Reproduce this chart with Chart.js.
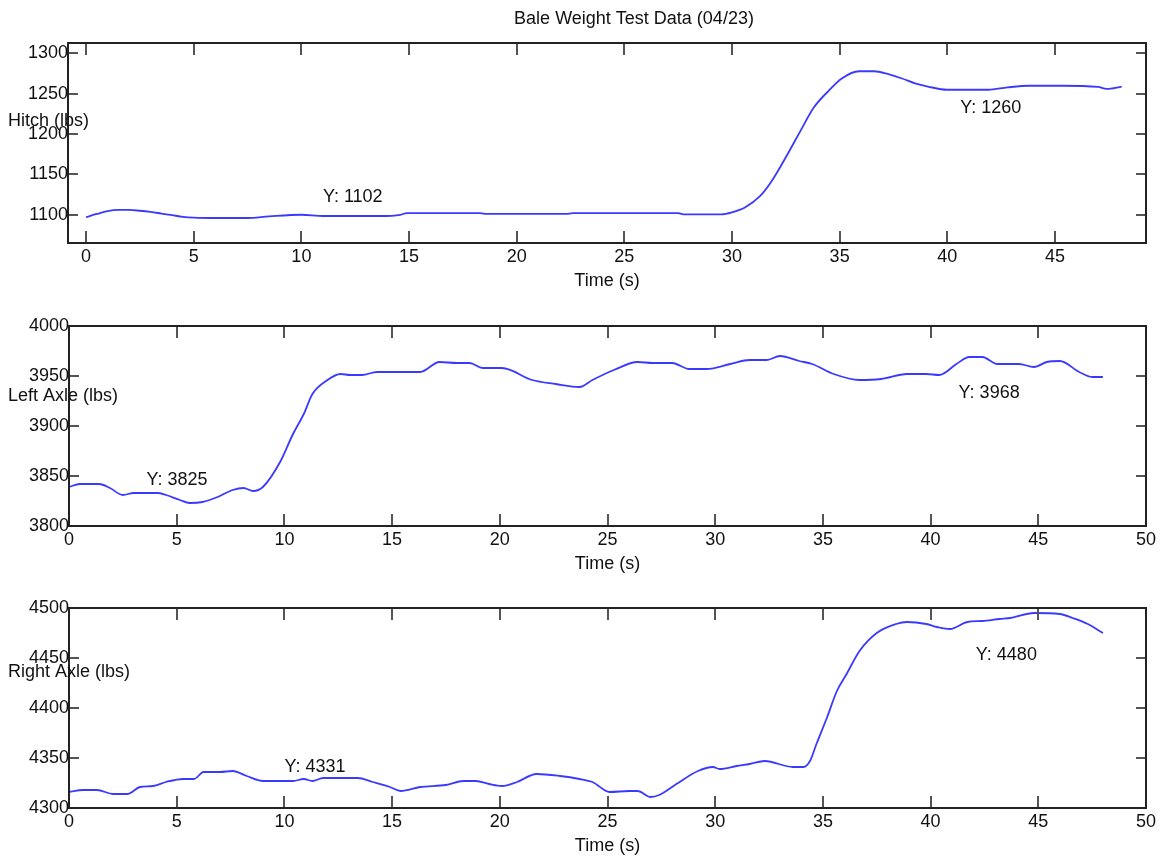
<!DOCTYPE html>
<html>
<head>
<meta charset="utf-8">
<title>Bale Weight Test Data (04/23)</title>
<script src="https://cdn.jsdelivr.net/npm/chart.js@4.4.1/dist/chart.umd.min.js"></script>
<style>
  html, body { margin: 0; padding: 0; background: #fff; overflow: hidden; }
  #page { position: relative; width: 1161px; height: 857px; }
  canvas { position: absolute; left: 0; }
</style>
</head>
<body>
<div id="page">
  <canvas id="hitch" width="1161" height="300" style="top:0px"></canvas>
  <canvas id="leftAxle" width="1161" height="300" style="top:290px"></canvas>
  <canvas id="rightAxle" width="1161" height="285" style="top:575px"></canvas>
</div>
<script>
// JavaScript Document
const chartTitle = "Bale Weight Test Data (04/23)";
const xTitle = "Time (s)";

// Hitch load cell
const hitchTime = [0, 0.5, 1.0, 1.5, 2.0, 2.5, 3.0, 3.5, 4.0, 4.5, 5.0, 6.0, 7.0, 7.5, 8.5,
  10.0, 11.0, 13.7, 14.6, 14.9, 18.3, 18.6, 22.3, 22.6, 27.5, 27.8, 29.5, 30.0, 30.6, 31.3,
  31.8, 32.6, 33.2, 33.8, 34.5, 35.1, 35.9, 36.6, 37.3, 37.9, 38.5, 39.1, 40.0, 41.9, 42.8,
  43.8, 45.3, 47.0, 47.4, 48.1];
const hitchLbs = [1097, 1101, 1104.5, 1106, 1106, 1105, 1103.5, 1101.5, 1099.5, 1097.5, 1096.5, 1096, 1096, 1096, 1098,
  1100, 1098.5, 1098.5, 1100, 1102, 1102, 1101, 1101, 1102, 1102, 1100.5, 1100.5, 1103, 1109, 1123,
  1140, 1176, 1205, 1233, 1254, 1269, 1278, 1278, 1274, 1269, 1263, 1259, 1255, 1255, 1258,
  1260, 1260, 1258.5, 1256, 1259];

// Left axle load cell
const leftTime = [0, 0.5, 1.4, 1.9, 2.5, 3.0, 4.1, 4.5, 5.15, 5.6, 6.2, 6.9, 7.6, 8.1, 8.55,
  9.0, 9.8, 10.4, 10.9, 11.3, 12.0, 12.6, 13.05, 13.6, 14.3, 16.3, 17.2, 18.0, 18.6, 19.2,
  20.1, 21.5, 22.6, 23.7, 24.3, 25.3, 26.4, 27.1, 28.0, 28.8, 29.6, 30.7, 31.6, 32.4, 33.0,
  33.9, 34.5, 35.5, 36.7, 37.7, 38.9, 39.8, 40.4, 41.2, 41.8, 42.4, 43.1, 44.1, 44.8, 45.4,
  46.0, 46.9, 47.5, 48.0];
const leftLbs = [3839, 3842, 3842, 3838, 3831, 3833, 3833, 3831, 3826, 3823, 3824, 3829, 3836, 3838, 3835,
  3839, 3864, 3892, 3912, 3932, 3946, 3952, 3951, 3951, 3954, 3954, 3964, 3963, 3963, 3958,
  3958, 3946, 3942, 3939, 3946, 3956, 3964, 3963, 3963, 3957, 3957, 3962, 3966, 3966, 3970,
  3965, 3962, 3952, 3946, 3947, 3952, 3952, 3951, 3962, 3969, 3969, 3962, 3962, 3959, 3964,
  3965, 3954, 3949, 3949];

// Right axle load cell
const rightTime = [0, 0.65, 1.3, 2.05, 2.7, 3.3, 3.9, 4.5, 5.3, 5.8, 6.25, 7.0, 7.6, 8.25, 9.0,
  10.4, 10.9, 11.3, 11.8, 13.4, 14.1, 14.9, 15.4, 16.3, 17.5, 18.3, 18.9, 19.5, 20.1, 20.8,
  21.7, 22.8, 23.7, 24.3, 25.1, 26.0, 26.4, 27.0, 27.4, 28.2, 29.2, 29.9, 30.2, 31.0, 31.6,
  32.3, 33.6, 34.1, 34.4, 34.7, 35.2, 35.65, 36.1, 36.7, 37.5, 38.4, 38.9, 39.8, 40.3, 40.9,
  41.7, 42.4, 43.2, 43.7, 44.8, 46.0, 46.6, 47.3, 48.0];
const rightLbs = [4316, 4318, 4318, 4314, 4314, 4321, 4322, 4326, 4329, 4329, 4336, 4336, 4337, 4332, 4327,
  4327, 4329, 4327, 4330, 4330, 4326, 4321, 4317, 4321, 4323, 4327, 4327, 4324, 4322, 4326,
  4334, 4332, 4329, 4326, 4316, 4317, 4317, 4311, 4313, 4324, 4337, 4341, 4339, 4342, 4344,
  4347, 4341, 4341, 4347, 4364, 4391, 4417, 4434, 4457, 4475, 4484, 4486, 4484, 4481, 4479,
  4486, 4487, 4489, 4490, 4495, 4494, 4490, 4484, 4475];

// tick labels
const hitchXTicks = [0, 5, 10, 15, 20, 25, 30, 35, 40, 45];
const axleXTicks = [0, 5, 10, 15, 20, 25, 30, 35, 40, 45, 50];
const hitchYTicks = [1100, 1150, 1200, 1250, 1300];
const leftYTicks = [3800, 3850, 3900, 3950, 4000];
const rightYTicks = [4300, 4350, 4400, 4450, 4500];

// data tips (text, time, lbs)
const hitchTips = [["Y: 1102", 11.0, 1121.7], ["Y: 1260", 40.6, 1232]];
const leftTips = [["Y: 3825", 3.6, 3846], ["Y: 3968", 41.3, 3933]];
const rightTips = [["Y: 4331", 10.0, 4341], ["Y: 4480", 42.1, 4453]];

const FONT = '"Liberation Sans", Arial, sans-serif';
const TEXT = "#111";

//Plugin drawing the matlab style box, inner ticks, ylabel and datatips
const matlabBox = {
  id: "matlabBox",
  afterDatasetsDraw(chart, args, opts) {
    const { ctx, chartArea: a } = chart;
    const x = chart.scales.x, y = chart.scales.y;
    ctx.save();
    ctx.strokeStyle = "#555";
    ctx.lineWidth = 2;
    ctx.beginPath();
    x.ticks.forEach((t) => {
      const px = Math.round(x.getPixelForValue(t.value));
      ctx.moveTo(px, a.bottom); ctx.lineTo(px, a.bottom - 12);
      ctx.moveTo(px, a.top); ctx.lineTo(px, a.top + 12);
    });
    y.ticks.forEach((t) => {
      const py = Math.round(y.getPixelForValue(t.value));
      ctx.moveTo(a.left, py); ctx.lineTo(a.left + 10, py);
      ctx.moveTo(a.right, py); ctx.lineTo(a.right - 10, py);
    });
    ctx.stroke();
    ctx.strokeStyle = "#222";
    ctx.strokeRect(a.left, a.top, a.right - a.left, a.bottom - a.top);

    ctx.font = "18px " + FONT;
    ctx.fillStyle = TEXT;
    ctx.textBaseline = "middle";
    ctx.textAlign = "left";
    opts.tips.forEach((tip) => {
      ctx.fillText(tip[0], x.getPixelForValue(tip[1]), y.getPixelForValue(tip[2]));
    });
    ctx.fillText(opts.yLabel, 8, a.top + opts.yLabelOffset);
    if (opts.title) {
      ctx.textAlign = "center";
      ctx.fillText(opts.title, 634, 19);
    }
    ctx.restore();
  },
};

const makePlot = (id, time, lbs, cfg) => {
  const canvas = document.getElementById(id);
  const h = canvas.height;
  return new Chart(canvas, {
    type: "line",
    plugins: [matlabBox],
    data: {
      datasets: [
        {
          data: time.map((t, i) => ({ x: t, y: lbs[i] })),
          borderColor: "#3a3aff",
          borderWidth: 1.8,
          pointRadius: 0,
          fill: false,
          cubicInterpolationMode: "monotone",
        },
      ],
    },
    options: {
      responsive: false,
      animation: false,
      layout: {
        padding: { top: cfg.top, left: 0, right: 1161 - cfg.right, bottom: h - cfg.bottom - 50 },
      },
      scales: {
        x: {
          type: "linear",
          min: cfg.xMin,
          max: cfg.xMax,
          grid: { display: false, drawTicks: false },
          border: { display: false },
          ticks: { font: { family: FONT, size: 18 }, color: TEXT, padding: 3, maxRotation: 0, autoSkip: false,
            callback: (v) => String(v) },
          afterBuildTicks: (s) => { s.ticks = cfg.xTicks.map((v) => ({ value: v })); },
          afterFit: (s) => { s.height = 50; },
          title: { display: true, text: xTitle, font: { family: FONT, size: 18 }, color: TEXT, padding: { top: 0, bottom: 1 } },
        },
        y: {
          type: "linear",
          min: cfg.yMin,
          max: cfg.yMax,
          grid: { display: false, drawTicks: false },
          border: { display: false },
          ticks: { font: { family: FONT, size: 18 }, color: TEXT, padding: 0, autoSkip: false,
            callback: (v) => String(v) },
          afterBuildTicks: (s) => { s.ticks = cfg.yTicks.map((v) => ({ value: v })); },
          afterFit: (s) => { s.width = cfg.left; },
        },
      },
      plugins: {
        legend: { display: false },
        tooltip: { enabled: false },
        matlabBox: { tips: cfg.tips, yLabel: cfg.yLabel, yLabelOffset: cfg.yLabelOffset, title: cfg.title || "" },
      },
    },
  });
};

makePlot("hitch", hitchTime, hitchLbs, {
  left: 68, right: 1146, top: 43, bottom: 243,
  xMin: -0.84, xMax: 49.23, yMin: 1065, yMax: 1313,
  xTicks: hitchXTicks, yTicks: hitchYTicks, tips: hitchTips,
  yLabel: "Hitch (lbs)", yLabelOffset: 78, title: chartTitle,
});
makePlot("leftAxle", leftTime, leftLbs, {
  left: 69, right: 1146, top: 36, bottom: 236,
  xMin: 0, xMax: 50, yMin: 3800, yMax: 4000,
  xTicks: axleXTicks, yTicks: leftYTicks, tips: leftTips,
  yLabel: "Left Axle (lbs)", yLabelOffset: 70,
});
makePlot("rightAxle", rightTime, rightLbs, {
  left: 69, right: 1146, top: 33, bottom: 233,
  xMin: 0, xMax: 50, yMin: 4300, yMax: 4500,
  xTicks: axleXTicks, yTicks: rightYTicks, tips: rightTips,
  yLabel: "Right Axle (lbs)", yLabelOffset: 64.5,
});
</script>
</body>
</html>
